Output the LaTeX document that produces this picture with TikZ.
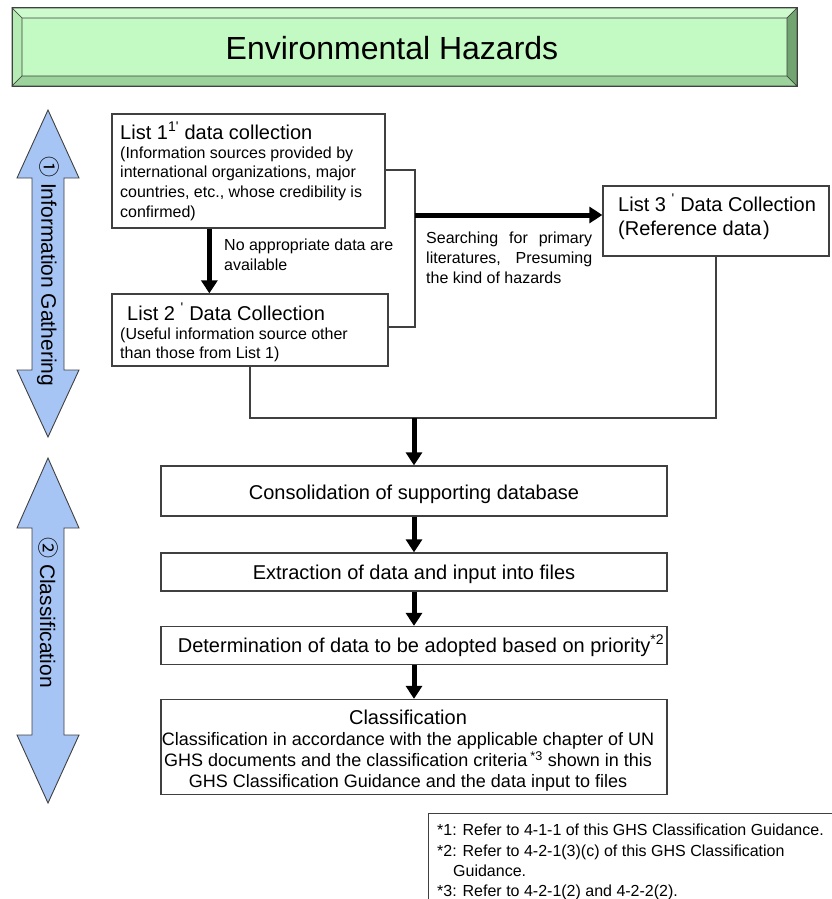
\documentclass[tikz,border=0pt]{standalone}
\usepackage{fontspec}
\setmainfont{Liberation Sans}
\newfontfamily\cjk{Noto Sans CJK JP}
\usetikzlibrary{arrows.meta,calc}
\definecolor{titleface}{HTML}{C3FAC3}
\definecolor{titletop}{HTML}{CDFBCD}
\definecolor{titleleft}{HTML}{B4ECB4}
\definecolor{titlebottom}{HTML}{9CD29C}
\definecolor{titleright}{HTML}{72A472}
\definecolor{boxline}{HTML}{404040}
\definecolor{sidefill}{HTML}{A6C4F4}
\newcommand{\fsz}[2]{\fontsize{#1}{#2}\selectfont}
\begin{document}
\begin{tikzpicture}[x=1pt,y=-1pt,
  box/.style={draw=boxline, line width=1.3pt, fill=white, inner sep=0pt},
  txt/.style={inner sep=0pt, align=left},
  conn/.style={draw=boxline, line width=1.3pt},
  thickarrow/.style={line width=5pt, -{Triangle[width=16pt,length=13pt]}},
  sidearrow/.style={draw=boxline, line width=0.9pt, fill=sidefill},
  bevel/.style={draw=boxline, line width=0.6pt}
]
\useasboundingbox (0,0) rectangle (831,899);

% ---- title banner ----
\fill[titleface] (12,8) rectangle (797,86);
\filldraw[bevel, fill=titletop] (12,8) -- (797,8) -- (787,18) -- (22,18) -- cycle;
\filldraw[bevel, fill=titleleft] (12,8) -- (22,18) -- (22,76) -- (12,86) -- cycle;
\filldraw[bevel, fill=titlebottom] (12,86) -- (22,76) -- (787,76) -- (797,86) -- cycle;
\filldraw[bevel, fill=titleright] (797,8) -- (797,86) -- (787,76) -- (787,18) -- cycle;
\draw[bevel, line width=1pt] (12,8) rectangle (797,86);
\node[inner sep=0pt, font=\fsz{32}{38}] (title) at (392,48) {Environmental Hazards};

% ---- side double arrows ----
\draw[sidearrow] (48,110) -- (79,178) -- (64,178) -- (64,370) -- (79,370) -- (48,437)
  -- (17,370) -- (32,370) -- (32,178) -- (17,178) -- cycle;
\draw[sidearrow] (48,458) -- (79,528) -- (64,528) -- (64,735) -- (79,735) -- (48,803)
  -- (17,735) -- (32,735) -- (32,528) -- (17,528) -- cycle;
\node[inner sep=0pt, rotate=-90, anchor=west, font=\fsz{21}{25}] (side1) at (48,156)
  {{\cjk ①} Information Gathering};
\node[inner sep=0pt, rotate=-90, anchor=west, font=\fsz{21}{25}] (side2) at (48,537)
  {{\cjk ②} Classification};

% ---- list boxes ----
\node[box, minimum width=273, minimum height=114] (l1) at (248.5,171) {};
\node[txt, anchor=base west, font=\fsz{20}{24}] (l1h) at (120,139)
  {List 1\textsuperscript{1\textquotesingle} data collection};
\node[txt, anchor=north west, font=\fsz{16}{19.7}] (l1b) at (120,146.5)
  {(Information sources provided by\\international organizations, major\\countries, etc., whose credibility is\\confirmed)};

\node[box, minimum width=276, minimum height=72] (l2) at (250,330) {};
\node[txt, anchor=base west, font=\fsz{20}{24}] (l2h) at (127,320)
  {List 2 \textsuperscript{\textquotesingle} Data Collection};
\node[txt, anchor=north west, font=\fsz{16}{19.7}] (l2b) at (120,327.5)
  {(Useful information source other\\than those from List 1)};

\node[box, minimum width=226, minimum height=70] (l3) at (716,221) {};
\node[txt, anchor=base west, font=\fsz{20}{24}] (l3h) at (618,211)
  {List 3 \textsuperscript{\textquotesingle} Data Collection};
\node[txt, anchor=base west, font=\fsz{20}{24}] (l3b) at (618,235)
  {(Reference data\kern1.5pt)};

% ---- connectors between lists ----
\coordinate (jr) at (415,170);
\coordinate (jm) at (415,215);
\coordinate (jb) at (415,327);
\draw[conn] (l1.east |- jr) -- (jr) -- (jb) -- (l2.east |- jb);
\draw[thickarrow] (jm) -- (jm -| l3.west);
\node[txt, anchor=north west, text width=166, align=justify, font=\fsz{16}{20}] (lbl3) at (426,232)
  {Searching for primary literatures, Presuming the kind of hazards};

\draw[thickarrow] ([xshift=98pt]l1.south west) -- ([xshift=98pt]l1.south west |- l2.north);
\node[txt, anchor=north west, font=\fsz{16}{20}] (lbl2) at (224,239)
  {No appropriate data are\\available};

\coordinate (m) at (414,418);
\draw[conn] (l2.south) -- (l2.south |- m) -- (m -| l3.south) -- (l3.south);

% ---- classification flow ----
\node[box, minimum width=506, minimum height=50, font=\fsz{20}{24},
      text height=20.6pt, text depth=4.2pt] (cons) at (414,491)
  {Consolidation of supporting database};
\node[box, minimum width=506, minimum height=38, font=\fsz{20}{24},
      text height=18.6pt, text depth=4.2pt] (extr) at (414,572)
  {Extraction of data and input into files};
\node[box, minimum width=506, minimum height=38, font=\fsz{20}{24}] (dete) at (414,645.5)
  {\hspace*{14pt}Determination of data to be adopted based on priority\textsuperscript{*2}};
\node[box, minimum width=506, minimum height=95] (clas) at (414,747) {};
\node[txt, anchor=north, align=center, font=\fsz{18}{20.8}] (clast) at (408,710)
  {\fsz{20}{20}Classification\\
   Classification in accordance with the applicable chapter of UN\\
   GHS documents and the classification criteria\,\textsuperscript{*3} shown in this\\
   GHS Classification Guidance and the data input to files};

\draw[thickarrow] (m) -- (cons.north);
\draw[thickarrow] (cons.south) -- (extr.north);
\draw[thickarrow] (extr.south) -- (dete.north);
\draw[thickarrow] (dete.south) -- (clas.north);

% ---- footnotes ----
\coordinate (fnc) at (428,813);
\draw[conn, line width=1pt] (428,905) -- (fnc) -- (840,813);
\node[txt, anchor=north west, font=\fsz{16}{20.2}] (fn) at (437,824)
  {*1: Refer to 4-1-1 of this GHS Classification Guidance.\\
   *2: Refer to 4-2-1(3)(c) of this GHS Classification\\
   \hspace*{16pt}Guidance.\\
   *3: Refer to 4-2-1(2) and 4-2-2(2).};
\end{tikzpicture}
\end{document}
